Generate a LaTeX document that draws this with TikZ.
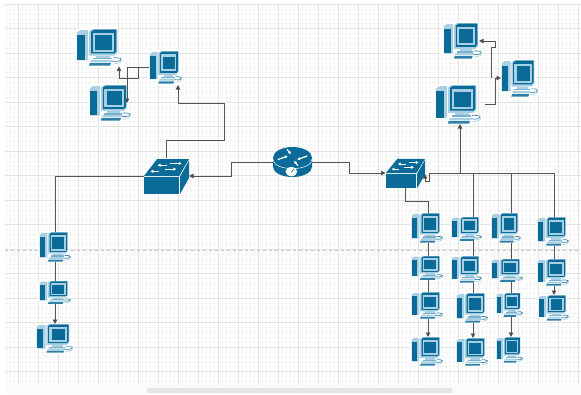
\documentclass[tikz,border=0pt]{standalone}
\usetikzlibrary{arrows.meta,calc}
\definecolor{netblue}{HTML}{0A6A98}
\definecolor{netlight}{HTML}{A9D0E2}
\definecolor{gridminor}{HTML}{F5F5F5}
\definecolor{gridmajor}{HTML}{E3E3E3}
\definecolor{linkdark}{HTML}{555555}
\tikzset{
  link/.style={draw=linkdark,line width=0.9pt},
  arrowlink/.style={link,-{Triangle[length=4.5pt,width=4.5pt,fill=black!80]}},
  box/.style={rectangle,inner sep=0pt,outer sep=0pt},
}
\newcommand{\pcicon}[5]{%
  \pgfmathsetmacro{\bw}{#4-#2}\pgfmathsetmacro{\bh}{#5-#3}%
  \node[box,minimum width=\bw pt,minimum height=\bh pt] (#1) at ({(#2+#4)/2},{(#3+#5)/2}) {};
  \begin{scope}[shift={(#2,#3)},xscale=\bw,yscale=\bh]
    \fill[white] (-.03,.06)--(.12,-.03)--(.92,-.03)--(.92,.74)--(1.03,.78)--(1.03,.95)--(.8,1.03)--(.28,1.03)--(.28,.88)--(-.03,.88)--cycle;
    \fill[netlight] (.02,.09)--(.1,.03)--(.26,.03)--(.26,.85)--(.02,.85)--cycle;
    \fill[netblue] (.02,.16)--(.2,.16)--(.2,.84)--(.02,.84)--cycle;
    \fill[netlight] (.28,.07)--(.36,0)--(.9,0)--(.9,.64)--(.82,.72)--(.28,.72)--cycle;
    \fill[netblue] (.33,.07)--(.4,.02)--(.88,.02)--(.88,.6)--(.84,.66)--(.33,.66)--cycle;
    \fill[netlight] (.36,.1)--(.83,.1)--(.83,.62)--(.36,.62)--cycle;
    \fill[netblue] (.42,.17)--(.78,.17)--(.78,.56)--(.42,.56)--cycle;
    \fill[netlight] (.44,.72)--(.74,.72)--(.74,.78)--(.44,.78)--cycle;
    \fill[netlight!70!netblue] (.36,.78)--(.78,.78)--(.78,.82)--(.36,.82)--cycle;
    \fill[netlight] (.33,.84)--(.8,.84)--(.76,.9)--(.3,.9)--cycle;
    \fill[netblue!85!white] (.3,.92)--(.76,.92)--(.74,.99)--(.28,.99)--cycle;
    \draw[netblue!80!white,line width=.7pt] (.78,.87) .. controls (.9,.89) and (.99,.86) .. (.98,.81) .. controls (.96,.77) and (.85,.78) .. (.8,.78);
    \draw[netlight,line width=.7pt] (.8,.95) .. controls (.9,.93) and (1,.91) .. (.99,.85);
  \end{scope}
}
\newcommand{\switchicon}[5]{%
  \pgfmathsetmacro{\bw}{#4-#2}\pgfmathsetmacro{\bh}{#5-#3}%
  \node[box,minimum width=\bw pt,minimum height=\bh pt] (#1) at ({(#2+#4)/2},{(#3+#5)/2}) {};
  \begin{scope}[shift={(#2,#3)},xscale=\bw,yscale=\bh]
    \fill[netblue] (0,.5)--(.29,.03)--(1,.03)--(.78,.5)--cycle;
    \fill[netblue] (0,.53)--(.78,.53)--(.78,1)--(0,1)--cycle;
    \fill[netblue] (.8,.52)--(1,.07)--(1,.55)--(.8,1)--cycle;
    \foreach \a/\b/\c/\d in {.5/.2/.3/.2,.58/.15/.84/.15,.34/.37/.14/.37,.46/.31/.72/.31}{
      \draw[white,line width=1pt,-{Latex[length=3pt,width=3.4pt]}] (\a,\b)--(\c,\d);
    }
  \end{scope}
}
\newcommand{\routericon}[5]{%
  \pgfmathsetmacro{\bw}{#4-#2}\pgfmathsetmacro{\bh}{#5-#3}%
  \node[box,minimum width=\bw pt,minimum height=\bh pt] (#1) at ({(#2+#4)/2},{(#3+#5)/2}) {};
  \begin{scope}[shift={(#2,#3)},xscale=\bw,yscale=\bh]
    \fill[netblue] (0,.36) .. controls (0,.16) and (.225,0) .. (.5,0) .. controls (.775,0) and (1,.16) .. (1,.36) -- (1,.66) .. controls (1,.85) and (.775,1) .. (.5,1) .. controls (.225,1) and (0,.85) .. (0,.66) -- cycle;
    \draw[white,line width=.5pt] (0,.4) .. controls (0,.6) and (.225,.72) .. (.5,.72) .. controls (.775,.72) and (1,.6) .. (1,.4);
    \foreach \a/\b/\c/\d in {.12/.42/.38/.3,.88/.3/.62/.42,.36/.08/.46/.24,.64/.62/.54/.46}{
      \draw[white,line width=1.2pt,-{Latex[length=3pt,width=3.4pt]}] (\a,\b)--(\c,\d);
    }
    \fill[white] (.32,.82) .. controls (.32,.72) and (.4,.66) .. (.47,.66) .. controls (.55,.66) and (.62,.72) .. (.62,.82) .. controls (.62,.92) and (.55,.98) .. (.47,.98) .. controls (.4,.98) and (.32,.92) .. (.32,.82) -- cycle;
    \draw[netblue,line width=.6pt] (.47,.85)--(.54,.72);
  \end{scope}
}
\begin{document}
\begin{tikzpicture}[x=1pt,y=-1pt]
\useasboundingbox (0,0) rectangle (581,394);
\fill[white] (0,0) rectangle (581,394);
\fill[black!2] (5,385) rectangle (581,394);
% grid
\foreach \i in {0,...,144} \draw[gridminor,line width=.4pt] ({6+4*\i},4)--({6+4*\i},385);
\foreach \j in {0,...,77} \draw[gridminor,line width=.4pt] (5,{4+4.9*\j})--(581,{4+4.9*\j});
\foreach \i in {0,...,28} \draw[gridmajor,line width=.5pt] ({18+20*\i},4)--({18+20*\i},385);
\foreach \j in {0,...,15} \draw[gridmajor,line width=.5pt] (5,{4+24.5*\j})--(581,{4+24.5*\j});
\draw[black!22,dashed,line width=.6pt] (5,250)--(581,250);
\fill[black!10] (147,388) rectangle (452,393);

% devices
\routericon{router}{273}{147}{312}{177}
\switchicon{swL}{144}{158}{189}{194}
\switchicon{swR}{386}{158}{425}{188}
\pcicon{A}{76}{29}{122}{66}
\pcicon{B}{149}{51}{182}{84}
\pcicon{C}{89}{85}{131}{121}
\pcicon{D}{443}{23}{482}{59}
\pcicon{E}{501}{60}{538}{97}
\pcicon{F}{435}{85}{481}{124}
\pcicon{La}{39}{232}{71}{262}
\pcicon{Lb}{39}{281}{71}{304}
\pcicon{Lc}{36}{324}{73}{353}
\pcicon{aa}{411}{213}{443}{243}
\pcicon{ab}{411}{256}{443}{280}
\pcicon{ac}{411}{292}{443}{319}
\pcicon{ad}{411}{337}{443}{366}
\pcicon{ba}{451}{217}{482}{241}
\pcicon{bb}{451}{256}{482}{283}
\pcicon{bc}{456}{293}{488}{323}
\pcicon{bd}{456}{338}{488}{366}
\pcicon{ca}{491}{213}{521}{243}
\pcicon{cb}{491}{259}{523}{282}
\pcicon{cc}{496}{293}{523}{317}
\pcicon{cd}{496}{337}{523}{363}
\pcicon{da}{537}{217}{569}{246}
\pcicon{db}{537}{259}{569}{286}
\pcicon{dc}{538}{295}{569}{321}

% column positions
\coordinate (xa) at (428,0);
\coordinate (xb) at (473,0);
\coordinate (xc) at (511,0);
\coordinate (xd) at (554,0);
\coordinate (xf) at (460,0);
\coordinate (xl) at (55,0);
\coordinate (bus) at (429,173);
\coordinate (busend) at (554,173);

% router to switches
\draw[arrowlink] (router.west) -- (231,162) -- (231,176) -- (swL.east |- 0,176);
\draw[arrowlink] (router.east) -- (349,162) -- (349,173) -- (385.5,173);
% left switch
\draw[link] (swL.west) -- (xl |- swL.west) -- (xl |- La.north);
\draw[link] (xl |- La.south) -- (xl |- Lb.north);
\draw[arrowlink] (xl |- Lb.south) -- (xl |- Lc.north);
\draw[arrowlink] (166,158) -- (166,140) -- (224,140) -- (224,103) -- (178,103) -- (178,85);
% top-left computers
\draw[arrowlink] (B.west |- 0,67) -- (127,67) -- (127,103);
\draw[arrowlink] (138,67) -- (138,78) -- (119,78) -- (119,66.5);
% top-right computers
\draw[arrowlink] (485,104) -- (495,104) -- (495,78) -- (E.west |- 0,78);
\draw[arrowlink] (491,78) -- (491,47) -- (495,47) -- (495,41) -- (479,41);
% right switch
\draw[link] (busend) -- (bus);
\draw[arrowlink] (bus) -- (429,181) -- (425,181) -- (425,174);
\draw[arrowlink] (xf |- bus) -- (xf |- F.south);
\draw[link] (405,188) -- (405,201) -- (xa |- 0,201) -- (xa |- aa.north);
\draw[link] (xb |- bus) -- (xb |- ba.north);
\draw[link] (xc |- bus) -- (xc |- ca.north);
\draw[link] (xd |- bus) -- (xd |- da.north);
% columns
\draw[link] (xa |- aa.south) -- (xa |- ab.north);
\draw[link] (xa |- ab.south) -- (xa |- ac.north);
\draw[arrowlink] (xa |- ac.south) -- (xa |- ad.north);
\draw[link] (xb |- ba.south) -- (xb |- bb.north);
\draw[link] (xb |- bb.south) -- (xb |- bc.north);
\draw[arrowlink] (xb |- bc.south) -- (xb |- bd.north);
\draw[link] (xc |- ca.south) -- (xc |- cb.north);
\draw[link] (xc |- cb.south) -- (xc |- cc.north);
\draw[arrowlink] (xc |- cc.south) -- (xc |- cd.north);
\draw[link] (xd |- da.south) -- (xd |- db.north);
\draw[arrowlink] (xd |- db.south) -- (xd |- dc.north);
\end{tikzpicture}
\end{document}
